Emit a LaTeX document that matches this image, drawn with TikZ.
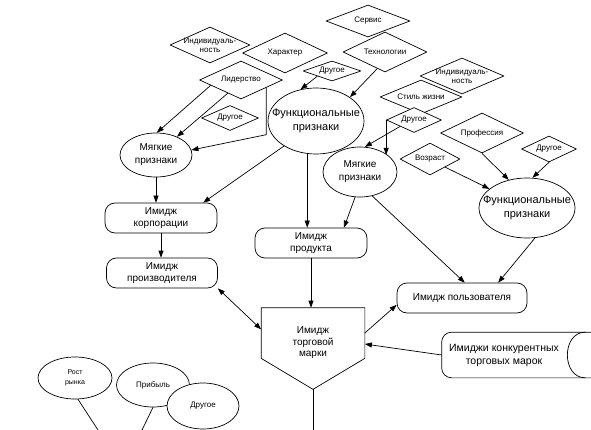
\documentclass[tikz,border=0pt]{standalone}
\usepackage{fontspec}
\setmainfont{Liberation Sans}
\usetikzlibrary{arrows.meta}
\usetikzlibrary{shapes.geometric}
\usetikzlibrary{calc}

\tikzset{
  dia/.style 2 args={draw, diamond, fill=white, inner sep=0pt, minimum width=#1, minimum height=#2},
  ell/.style 2 args={draw, ellipse, fill=white, inner sep=0pt, minimum width=#1, minimum height=#2},
  imgbox/.style={draw, rounded corners=10pt, inner sep=0pt, minimum height=30, align=center, font=\fontsize{10}{12.5}\selectfont},
  dtxt/.style={align=center, inner sep=0pt, font=\fontsize{8}{9}\selectfont},
  stxt/.style={align=center, inner sep=0pt, font=\fontsize{10}{13}\selectfont},
  ftxt/.style={align=center, inner sep=0pt, font=\fontsize{11}{14}\selectfont},
}

\begin{document}
\begin{tikzpicture}[line cap=round,line join=round,>={Triangle[length=7pt,width=5pt]},x=1pt,y=-1pt,line width=0.7pt]
      \useasboundingbox (0,0) rectangle (591,430);
      \node[dia={80}{36}, label={[dtxt]center:{Индивидуаль-\\ность}}] (indiv1) at (210,45) {};
      \node[dia={85}{40}, label={[dtxt]center:Характер}] (charact) at (285,53) {};
      \node[dia={83}{38}, label={[dtxt]center:Лидерство}] (leader) at (241,80) {};
      \node[dia={57}{25}, label={[dtxt]center:Другое}] (other1) at (230,118) {};
      \node[dia={84}{32}, label={[dtxt]center:Сервис}] (service) at (368,21) {};
      \node[dia={84}{40}, label={[dtxt]center:Технологии}] (techn) at (385,52) {};
      \node[dia={58}{20}, label={[dtxt]center:Другое}] (other2) at (332,71) {};
      \node[dia={84}{36}, label={[dtxt]center:{Индивидуаль-\\ность}}] (indiv2) at (462,76) {};
      \node[dia={82}{34}, label={[dtxt]center:Стиль жизни}] (life) at (421,97) {};
      \node[dia={55}{25}, label={[dtxt]center:Другое}] (other3) at (414,120) {};
      \node[dia={83}{40}, label={[dtxt]center:Профессия}] (profess) at (482,133) {};
      \node[dia={55}{26}, label={[dtxt]center:Другое}] (other4) at (549,149) {};
      \node[dia={60}{32}, label={[dtxt]center:Возраст}] (age) at (430,159) {};
      \node[ell={96}{66}, label={[ftxt]center:{Функциональные\\признаки}}] (func1) at (316,121) {};
      \node[ell={96}{60}, label={[ftxt]center:{Функциональные\\признаки}}] (func2) at (527,208) {};
      \node[ell={72}{44}, label={[stxt]center:{Мягкие\\признаки}}] (soft1) at (156,155) {};
      \node[ell={74}{50}, label={[stxt]center:{Мягкие\\признаки}}] (soft2) at (360,172) {};
      \node[imgbox, minimum width=112] (corp) at (161,218) {Имидж\\корпорации};
      \node[imgbox, minimum width=111] (maker) at (162,273) {Имидж\\производителя};
      \node[imgbox, minimum width=112] (product) at (311,243) {Имидж\\продукта};
      \node[imgbox, minimum width=130] (user) at (462,298) {Имидж пользователя};
      \node[minimum width=103, minimum height=50, inner sep=0pt, label={[stxt,font=\fontsize{10}{11.5}\selectfont,yshift=-10pt]center:{Имидж\\торговой\\марки}}] (brand) at (313,333) {};
      \coordinate (tip) at ([yshift=-31pt]brand.south);
      \draw (brand.north west) -- (brand.north east) -- (brand.south east) -- (tip) -- (brand.south west) -- cycle;
      \node[minimum width=124, minimum height=45, inner sep=0pt, align=center, font=\fontsize{10.5}{13}\selectfont] (comp) at (504,355) {Имиджи конкурентных\\торговых марок};
      \draw[rounded corners=10pt] ($(comp.north east)+(25,0)$) -- (comp.north west) -- (comp.south west) -- ($(comp.south east)+(25,0)$);
      \draw ($(comp.north east)+(19,0)$) .. controls ($(comp.north east)+(-5,0)$) and ($(comp.south east)+(-5,0)$) .. ($(comp.south east)+(19,0)$);
      \node[ell={74}{42}, label={[align=center,inner sep=0pt,font=\fontsize{7}{10}\selectfont]center:{Рост\\рынка}}] (market) at (75,378) {};
      \node[ell={73}{44}, label={[dtxt]center:Прибыль}] (profit) at (153,385) {};
      \node[ell={72}{46}, label={[dtxt]center:Другое}] (other5) at (203,406) {};
      \coordinate (mk0) at (98,430);
      \coordinate (pf0) at (142,430);
      \coordinate (br0) at (313,430);
      \draw[->] (leader.190) -- (soft1.88);
      \draw[->] (leader.225) -- (soft1.41);
      \draw[->] (leader.-17) -- ++(0,47) -- (soft1.8);
      \draw[->] (other2.south west) -- (func1.116);
      \draw[->] (techn.245) -- (func1.35);
      \draw[->] (func1.218) -- (corp.20);
      \draw[->] (func1.255) -- (func1.255 |- product.north);
      \draw[->] (soft1.south) -- (soft1.south |- corp.north);
      \draw[->] (corp.south) -- (corp.south |- maker.north);
      \draw[->] (soft2.259) -- (product.25);
      \draw[->] (soft2.297) -- (user.80);
      \draw[->] (func2.285) -- (user.23);
      \draw[->] (other3.south west) -- (soft2.79);
      \draw[->] (other3.west) -- (other3.west |- soft2.32);
      \draw[->] (profess.south) -- (func2.123);
      \draw[->] (other4.south) -- (func2.80);
      \draw[->] (age.south east) -- (func2.153);
      \draw[->] (product.south) -- (product.south |- brand.north);
      \draw[<->] (maker.south east) -- (brand.176);
      \draw[->] (brand.east) -- (user.186);
      \draw[->] (comp.west) -- (brand.-12);
      \draw (market.-82) -- (mk0);
      \draw (profit.south) -- (pf0);
      \draw (tip) -- (br0);
\end{tikzpicture}
\end{document}
